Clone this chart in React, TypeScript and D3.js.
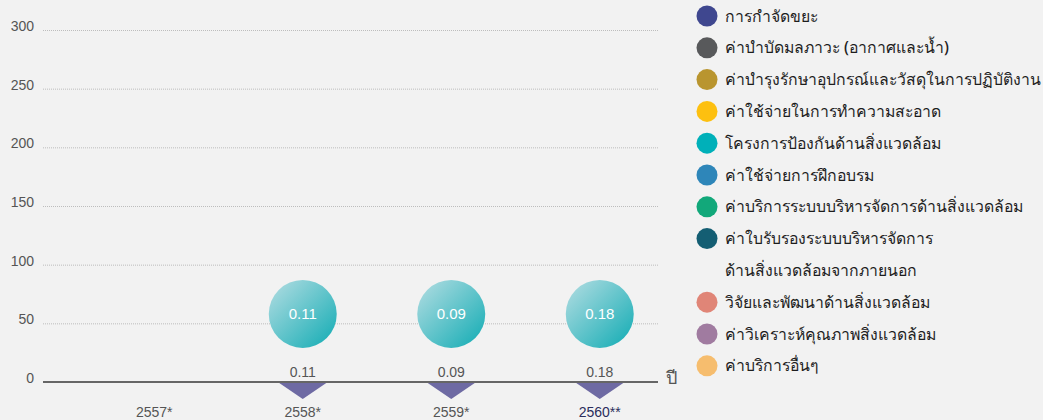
import { useRef, useEffect } from 'react'
import * as d3 from 'd3';

const years = ["2557*", "2558*", "2559*", "2560**"];
const values: (number | null)[] = [null, 0.11, 0.09, 0.18];
const yTicks = [0, 50, 100, 150, 200, 250, 300];

const legendLabels = [
    ["การกำจัดขยะ"],
    ["ค่าบำบัดมลภาวะ (อากาศและน้ำ)"],
    ["ค่าบำรุงรักษาอุปกรณ์และวัสดุในการปฏิบัติงาน"],
    ["ค่าใช้จ่ายในการทำความสะอาด"],
    ["โครงการป้องกันด้านสิ่งแวดล้อม"],
    ["ค่าใช้จ่ายการฝึกอบรม"],
    ["ค่าบริการระบบบริหารจัดการด้านสิ่งแวดล้อม"],
    ["ค่าใบรับรองระบบบริหารจัดการ", "ด้านสิ่งแวดล้อมจากภายนอก"],
    ["วิจัยและพัฒนาด้านสิ่งแวดล้อม"],
    ["ค่าวิเคราะห์คุณภาพสิ่งแวดล้อม"],
    ["ค่าบริการอื่นๆ"],
];
const legendColors = [
    "#3f478f", "#58595b", "#b9952f", "#fdc010", "#00b0b9", "#2e86b9",
    "#12a87a", "#145e73", "#e08577", "#a07ba0", "#f6bd6e",
];

function App() {
    const ref = useRef(null);
    const width = 1043;
    const height = 420;

    useEffect(() => {
        const svg = d3.select(ref.current);
        svg.selectAll("*").remove();

        const marginLeft = 43;
        const plotRight = 658;

        const x = d3.scaleBand()
                    .domain(years)
                    .range([80, 674]);
        const y = d3.scaleLinear()
                    .domain([0, 300])
                    .range([382, 30]);

        svg.append("rect")
           .attr("width", width).attr("height", height)
           .attr("fill", "#f2f2f2");

        const defs = svg.append("defs");
        const grad = defs.append("linearGradient")
                         .attr("id", "bubble")
                         .attr("x1", "0%").attr("y1", "0%")
                         .attr("x2", "100%").attr("y2", "100%");
        grad.append("stop").attr("offset", "0%").attr("stop-color", "#b6dee3");
        grad.append("stop").attr("offset", "100%").attr("stop-color", "#0fabb3");

        // grid
        const grid = svg.append("g");
        grid.selectAll("line")
            .data(yTicks.filter(d => d > 0))
            .join("line")
            .attr("x1", marginLeft).attr("x2", plotRight)
            .attr("y1", d => y(d) + 0.5).attr("y2", d => y(d) + 0.5)
            .attr("stroke", "#bdbdbd")
            .attr("stroke-width", 1)
            .attr("stroke-dasharray", "1,1");

        grid.selectAll("text")
            .data(yTicks)
            .join("text")
            .attr("x", 34)
            .attr("y", d => y(d) + 1)
            .attr("text-anchor", "end")
            .attr("font-family", "Liberation Sans, Arial, sans-serif")
            .attr("font-size", 14)
            .attr("fill", "#555")
            .text(d => d);

        const pts = years.map((yr, i) => ({ yr, v: values[i] }))
                         .filter(d => d.v !== null);
        const cx = (d) => x(d.yr)! + x.bandwidth() / 2;

        // bubbles
        const bub = svg.append("g");
        bub.selectAll("circle")
           .data(pts)
           .join("circle")
           .attr("cx", cx)
           .attr("cy", y(58))
           .attr("r", 34)
           .attr("fill", "url(#bubble)");
        bub.selectAll("text")
           .data(pts)
           .join("text")
           .attr("x", cx)
           .attr("y", y(58))
           .attr("dy", "0.36em")
           .attr("text-anchor", "middle")
           .attr("font-family", "Liberation Sans, Arial, sans-serif")
           .attr("font-size", 15)
           .attr("fill", "#fff")
           .text(d => d.v!.toFixed(2));

        // value labels
        svg.append("g").selectAll("text")
           .data(pts)
           .join("text")
           .attr("x", cx)
           .attr("y", y(0) - 5)
           .attr("text-anchor", "middle")
           .attr("font-family", "Liberation Sans, Arial, sans-serif")
           .attr("font-size", 14)
           .attr("fill", "#555")
           .text(d => d.v!.toFixed(2));

        // triangles
        svg.append("g").selectAll("path")
           .data(pts)
           .join("path")
           .attr("d", d => {
               const c = cx(d);
               return `M${c - 25},${y(0)}L${c + 25},${y(0)}L${c},${y(0) + 17}Z`;
           })
           .attr("fill", "#6e6aa3");

        // baseline
        svg.append("line")
           .attr("x1", marginLeft).attr("x2", plotRight)
           .attr("y1", y(0)).attr("y2", y(0))
           .attr("stroke", "#666")
           .attr("stroke-width", 2);

        svg.append("text")
           .attr("x", 666).attr("y", 384)
           .attr("font-family", "Noto Sans, sans-serif")
           .attr("font-size", 18)
           .attr("fill", "#555")
           .text("ปี");

        // x labels
        svg.append("g").selectAll("text")
           .data(years)
           .join("text")
           .attr("x", d => x(d)! + x.bandwidth() / 2)
           .attr("y", 417)
           .attr("text-anchor", "middle")
           .attr("font-family", "Liberation Sans, Arial, sans-serif")
           .attr("font-size", 14)
           .attr("fill", (d, i) => i === years.length - 1 ? "#2b2d5c" : "#555")
           .text(d => d);

        // legend
        const leg = svg.append("g");
        let row = 0;
        legendLabels.forEach((lines, i) => {
            const ly = 16 + row * 31.8;
            leg.append("circle")
               .attr("cx", 707).attr("cy", ly)
               .attr("r", 10.5)
               .attr("fill", legendColors[i]);
            lines.forEach((t, j) => {
                leg.append("text")
                   .attr("x", 725).attr("y", ly + j * 31.8)
                   .attr("dy", "0.35em")
                   .attr("font-family", "Noto Sans, sans-serif")
                   .attr("font-size", 15.8)
                   .attr("font-weight", 500)
                   .attr("fill", "#1e1e1e")
                   .text(t);
            });
            row += lines.length;
        });
    });

    return (
        <div style={{ position: "fixed", left: 0, top: 0 }}>
            <svg width={width} height={height} ref={ref} style={{ display: "block" }} />
        </div>
    )
}

export default App;
